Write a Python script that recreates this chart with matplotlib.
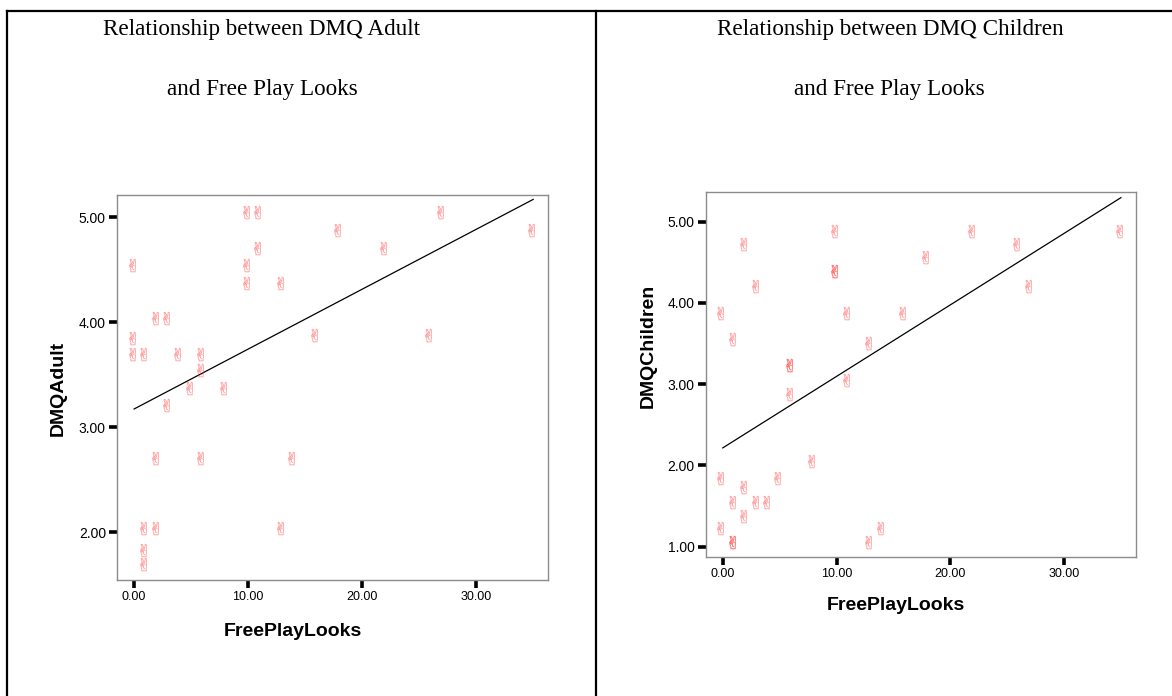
import matplotlib
matplotlib.use('Agg')
import matplotlib.pyplot as plt
from matplotlib.lines import Line2D
import numpy as np

# free play looks and DMQ scores
looks_adult = [0, 0, 0, 1, 2, 3, 4, 6, 6, 5, 8, 3, 2, 6, 14, 1,
               2, 13, 1, 1, 10, 11, 11, 10, 10, 13, 16, 18, 22, 27, 26, 35]
dmq_adult = [4.54, 3.85, 3.70, 3.70, 4.04, 4.04, 3.70, 3.70, 3.54, 3.37, 3.37, 3.21, 2.71, 2.71, 2.71, 2.04,
             2.04, 2.04, 1.83, 1.70, 5.05, 5.05, 4.71, 4.54, 4.37, 4.37, 3.88, 4.88, 4.71, 5.05, 3.88, 4.88]

looks_child = [0, 0, 0, 1, 1, 1, 1, 2, 2, 2, 3, 3, 4, 5, 6, 6,
               6, 8, 10, 10, 10, 11, 11, 13, 13, 14, 16, 18, 22, 26, 27, 35]
dmq_child = [3.88, 1.85, 1.23, 3.56, 1.55, 1.06, 1.06, 4.73, 1.73, 1.38, 4.21, 1.55, 1.55, 1.85, 3.23, 3.23,
             2.88, 2.06, 4.89, 4.39, 4.39, 3.88, 3.05, 3.50, 1.06, 1.23, 3.88, 4.56, 4.89, 4.73, 4.21, 4.89]

xticks = [0, 10, 20, 30]
yticks_adult = [2, 3, 4, 5]
yticks_child = [1, 2, 3, 4, 5]

W, H = 1172, 696
fig = plt.figure(figsize=(W / 100, H / 100), dpi=100)


def fx(px):
    return px / W


def fy(py):
    return 1 - py / H


def panel(rect, x, y, yticks, ylim):
    ax = fig.add_axes(rect)
    x = np.array(x, dtype=float)
    y = np.array(y, dtype=float)
    ax.scatter(x - 0.2, y, marker='$\u270C$', s=90, color='#ff5050', alpha=0.55,
               linewidths=0.15, edgecolors='#ff5050', zorder=3)
    m, b = np.polyfit(x, y, 1)
    xs = np.linspace(0, x.max(), 100)
    ax.plot(xs, m * xs + b, color='black', lw=0.9, zorder=2)
    ax.set_xlim(-1.5, 36.3)
    ax.set_ylim(*ylim)
    ax.set_xticks(xticks)
    ax.set_xticklabels(['%.2f' % t for t in xticks], fontsize=9, family='Liberation Sans')
    ax.set_yticks(yticks)
    ax.set_yticklabels(['%.2f' % t for t in yticks], fontsize=10, family='Liberation Sans')
    ax.tick_params(direction='out', length=6, width=2.6, color='black', pad=2)
    for s in ax.spines.values():
        s.set_color('#8c8c8c')
        s.set_linewidth(1.0)
    return ax


panel([fx(117), fy(580), fx(548 - 117), (580 - 195) / H], looks_adult, dmq_adult,
      yticks_adult, (1.546, 5.21))
panel([fx(705.7), fy(556.7), fx(1135.7 - 705.7), (556.7 - 192.3) / H], looks_child, dmq_child,
      yticks_child, (0.877, 5.36))

# titles and axis labels
tfont = dict(family='Liberation Serif', fontsize=16.7, ha='center', va='center')
fig.text(fx(262), fy(29), 'Relationship between DMQ Adult', **tfont)
fig.text(fx(262), fy(90), 'and Free Play Looks', **tfont)
fig.text(fx(890), fy(29), 'Relationship between DMQ Children', **tfont)
fig.text(fx(889), fy(90), 'and Free Play Looks', **tfont)

lfont = dict(family='Liberation Sans', fontsize=14, fontweight='bold', ha='center', va='center')
fig.text(fx(293), fy(632), 'FreePlayLooks', **lfont)
fig.text(fx(896), fy(606), 'FreePlayLooks', **lfont)
fig.text(fx(58), fy(388), 'DMQAdult', rotation=90, **lfont)
fig.text(fx(648), fy(346), 'DMQChildren', rotation=90, **lfont)

# table borders
for xs, ys in [((7, W), (11, 11)), ((7, 7), (11, H)), ((596, 596), (11, H))]:
    fig.add_artist(Line2D([fx(v) for v in xs], [fy(v) for v in ys],
                          color='black', lw=1.6, transform=fig.transFigure))

fig.savefig('out.png', dpi=100)
